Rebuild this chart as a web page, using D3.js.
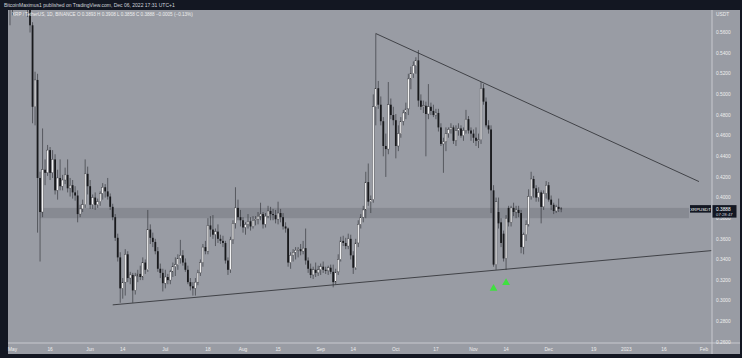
<!DOCTYPE html>
<html lang="en">
<head>
<meta charset="utf-8">
<title>XRP / TetherUS, 1D, BINANCE</title>
<script src="https://cdn.jsdelivr.net/npm/d3@7"></script>
<style>
  body { margin: 0; background: #131722; }
  svg { display: block; }
  text { font-family: "Liberation Sans", Arial, sans-serif; }
</style>
</head>
<body>
<script>

// Daily candles: [open, high, low, close]
var apr = [
  [0.606,0.610,0.567,0.586]
];
var may = [
  [0.586,0.612,0.576,0.607],[0.607,0.617,0.595,0.606],[0.606,0.609,0.590,0.595],[0.595,0.650,0.592,0.645],
  [0.645,0.654,0.600,0.605],[0.605,0.608,0.583,0.598],[0.598,0.601,0.575,0.583],[0.583,0.586,0.560,0.567],
  [0.567,0.570,0.472,0.488],[0.488,0.522,0.470,0.514],[0.514,0.520,0.366,0.419],[0.419,0.425,0.338,0.386],
  [0.386,0.467,0.381,0.427],[0.427,0.437,0.412,0.424],[0.424,0.451,0.421,0.446],[0.446,0.449,0.417,0.424],
  [0.424,0.446,0.419,0.437],[0.437,0.442,0.403,0.407],[0.407,0.427,0.398,0.419],[0.419,0.437,0.407,0.411],
  [0.411,0.422,0.407,0.417],[0.417,0.429,0.413,0.422],[0.422,0.437,0.405,0.409],[0.409,0.419,0.401,0.412],
  [0.412,0.417,0.399,0.405],[0.405,0.411,0.397,0.402],[0.402,0.407,0.376,0.384],[0.384,0.393,0.381,0.389],
  [0.389,0.398,0.386,0.393],[0.393,0.437,0.390,0.423],[0.423,0.430,0.403,0.411]
];
var jun = [
  [0.411,0.417,0.389,0.393],[0.393,0.403,0.389,0.400],[0.400,0.405,0.388,0.393],[0.393,0.399,0.390,0.396],
  [0.396,0.406,0.392,0.404],[0.404,0.414,0.398,0.410],[0.410,0.413,0.400,0.406],[0.406,0.419,0.398,0.401],
  [0.401,0.404,0.388,0.391],[0.391,0.394,0.378,0.381],[0.381,0.384,0.358,0.361],[0.361,0.365,0.338,0.342],
  [0.342,0.347,0.298,0.312],[0.312,0.322,0.302,0.318],[0.318,0.350,0.305,0.345],[0.345,0.348,0.318,0.322],
  [0.322,0.328,0.316,0.325],[0.325,0.327,0.298,0.310],[0.310,0.327,0.306,0.324],[0.324,0.330,0.318,0.326],
  [0.326,0.334,0.320,0.323],[0.323,0.342,0.320,0.337],[0.337,0.340,0.326,0.330],[0.330,0.388,0.328,0.369],
  [0.369,0.374,0.355,0.361],[0.361,0.366,0.352,0.357],[0.357,0.360,0.345,0.348],[0.348,0.352,0.328,0.331],
  [0.331,0.336,0.322,0.327],[0.327,0.331,0.309,0.317]
];
var jul = [
  [0.317,0.330,0.312,0.323],[0.323,0.326,0.316,0.320],[0.320,0.330,0.316,0.328],[0.328,0.337,0.323,0.333],
  [0.333,0.342,0.324,0.335],[0.335,0.345,0.330,0.341],[0.341,0.359,0.336,0.344],[0.344,0.349,0.334,0.337],
  [0.337,0.341,0.328,0.330],[0.330,0.334,0.316,0.318],[0.318,0.322,0.310,0.314],[0.314,0.318,0.305,0.312],
  [0.312,0.322,0.305,0.318],[0.318,0.330,0.315,0.327],[0.327,0.340,0.324,0.337],[0.337,0.355,0.333,0.352],
  [0.352,0.358,0.345,0.348],[0.348,0.380,0.345,0.373],[0.373,0.382,0.362,0.369],[0.369,0.383,0.360,0.364],
  [0.364,0.370,0.353,0.367],[0.367,0.374,0.356,0.360],[0.360,0.364,0.355,0.358],[0.358,0.363,0.352,0.356],
  [0.356,0.358,0.336,0.339],[0.339,0.342,0.325,0.330],[0.330,0.362,0.327,0.359],[0.359,0.378,0.355,0.375],
  [0.375,0.410,0.370,0.390],[0.390,0.398,0.378,0.381],[0.381,0.388,0.372,0.378]
];
var aug = [
  [0.378,0.381,0.366,0.371],[0.371,0.376,0.364,0.374],[0.374,0.384,0.370,0.377],[0.377,0.381,0.368,0.372],
  [0.372,0.382,0.370,0.378],[0.378,0.382,0.373,0.379],[0.379,0.386,0.374,0.382],[0.382,0.395,0.378,0.384],
  [0.384,0.386,0.370,0.374],[0.374,0.385,0.371,0.382],[0.382,0.392,0.380,0.387],[0.387,0.391,0.378,0.384],
  [0.384,0.389,0.378,0.383],[0.383,0.388,0.375,0.379],[0.379,0.396,0.374,0.385],[0.385,0.389,0.376,0.381],
  [0.381,0.385,0.369,0.372],[0.372,0.376,0.366,0.370],[0.370,0.371,0.333,0.337],[0.337,0.347,0.331,0.344],
  [0.344,0.350,0.338,0.347],[0.347,0.352,0.340,0.349],[0.349,0.352,0.342,0.350],[0.350,0.355,0.344,0.348],
  [0.348,0.358,0.345,0.351],[0.351,0.370,0.335,0.339],[0.339,0.342,0.327,0.331],[0.331,0.336,0.322,0.325],
  [0.325,0.333,0.321,0.330],[0.330,0.337,0.323,0.327],[0.327,0.334,0.324,0.330]
];
var sep = [
  [0.330,0.336,0.325,0.333],[0.333,0.338,0.327,0.330],[0.330,0.333,0.326,0.329],[0.329,0.334,0.325,0.332],
  [0.332,0.335,0.326,0.328],[0.328,0.335,0.313,0.318],[0.318,0.331,0.316,0.328],[0.328,0.345,0.325,0.340],
  [0.340,0.362,0.338,0.358],[0.358,0.363,0.353,0.356],[0.356,0.361,0.350,0.353],[0.353,0.365,0.350,0.360],
  [0.360,0.364,0.340,0.344],[0.344,0.348,0.326,0.332],[0.332,0.360,0.330,0.356],[0.356,0.378,0.352,0.374],
  [0.374,0.384,0.370,0.381],[0.381,0.392,0.376,0.388],[0.388,0.425,0.380,0.415],[0.415,0.433,0.392,0.396],
  [0.396,0.402,0.385,0.398],[0.398,0.500,0.395,0.488],[0.488,0.559,0.470,0.506],[0.506,0.513,0.486,0.490],
  [0.490,0.498,0.470,0.474],[0.474,0.478,0.440,0.450],[0.450,0.462,0.420,0.447],[0.447,0.512,0.442,0.490],
  [0.490,0.496,0.476,0.480],[0.480,0.488,0.470,0.475]
];
var oct = [
  [0.475,0.481,0.438,0.450],[0.450,0.470,0.445,0.462],[0.462,0.478,0.458,0.474],[0.474,0.485,0.470,0.482],
  [0.482,0.492,0.476,0.486],[0.486,0.520,0.480,0.515],[0.515,0.527,0.505,0.520],[0.520,0.532,0.516,0.528],
  [0.528,0.536,0.520,0.533],[0.533,0.543,0.488,0.494],[0.494,0.500,0.485,0.488],[0.488,0.494,0.482,0.489],
  [0.489,0.493,0.440,0.481],[0.481,0.510,0.476,0.488],[0.488,0.492,0.480,0.484],[0.484,0.490,0.478,0.480],
  [0.480,0.486,0.476,0.482],[0.482,0.486,0.464,0.468],[0.468,0.472,0.450,0.452],[0.452,0.458,0.424,0.454],
  [0.454,0.468,0.445,0.462],[0.462,0.468,0.458,0.466],[0.466,0.472,0.462,0.468],[0.468,0.470,0.452,0.455],
  [0.455,0.470,0.450,0.465],[0.465,0.472,0.460,0.467],[0.467,0.470,0.458,0.460],[0.460,0.468,0.455,0.465],
  [0.465,0.485,0.462,0.476],[0.476,0.479,0.462,0.465],[0.465,0.468,0.455,0.462]
];
var nov = [
  [0.462,0.466,0.453,0.458],[0.458,0.468,0.450,0.455],[0.455,0.462,0.448,0.456],[0.456,0.512,0.452,0.506],
  [0.506,0.510,0.490,0.493],[0.493,0.497,0.468,0.470],[0.470,0.475,0.462,0.466],[0.466,0.470,0.385,0.407],
  [0.407,0.412,0.333,0.335],[0.335,0.400,0.330,0.396],[0.386,0.400,0.370,0.375],[0.376,0.380,0.352,0.356],
  [0.365,0.368,0.338,0.341],[0.341,0.383,0.330,0.380],[0.390,0.392,0.372,0.376],[0.376,0.392,0.372,0.390],
  [0.390,0.395,0.382,0.386],[0.386,0.392,0.380,0.388],[0.388,0.392,0.381,0.385],[0.385,0.388,0.346,0.352],
  [0.352,0.366,0.345,0.364],[0.364,0.378,0.358,0.374],[0.374,0.408,0.372,0.401],[0.401,0.425,0.398,0.418],
  [0.418,0.421,0.400,0.409],[0.409,0.412,0.396,0.400],[0.400,0.410,0.396,0.405],[0.405,0.407,0.375,0.391],
  [0.391,0.407,0.388,0.404],[0.404,0.416,0.399,0.412]
];
var dec = [
  [0.412,0.415,0.396,0.398],[0.398,0.402,0.388,0.393],[0.393,0.395,0.384,0.387],[0.387,0.393,0.385,0.391],
  [0.391,0.399,0.386,0.389],[0.3893,0.3908,0.3858,0.3888]
];
// first calendar day of each block
var blocks = [
  [Date.UTC(2022,3,30), apr], [Date.UTC(2022,4,1), may], [Date.UTC(2022,5,1), jun],
  [Date.UTC(2022,6,1), jul], [Date.UTC(2022,7,1), aug], [Date.UTC(2022,8,1), sep],
  [Date.UTC(2022,9,1), oct], [Date.UTC(2022,10,1), nov], [Date.UTC(2022,11,1), dec]
];

// drawn trendlines [date, price]
var resistance = [[Date.UTC(2022,8,23), 0.5590], [Date.UTC(2023,0,30), 0.4155]];
var support = [[Date.UTC(2022,5,10), 0.2960], [Date.UTC(2023,1,4), 0.3486]];
// grey zone
var zoneDates = [Date.UTC(2022,4,12), Date.UTC(2023,0,26)];
var zonePrices = [0.380, 0.390];
// green markers below the November lows
var signals = [[Date.UTC(2022,10,9), 0.3118], [Date.UTC(2022,10,14), 0.3175]];

var yTicks = [0.26,0.28,0.30,0.32,0.34,0.36,0.38,0.40,0.42,0.44,0.46,0.48,0.50,0.52,0.54,0.56];
var xTicks = [
  [Date.UTC(2022,4,1),"May"], [Date.UTC(2022,4,16),"16"], [Date.UTC(2022,5,1),"Jun"], [Date.UTC(2022,5,14),"14"],
  [Date.UTC(2022,6,1),"Jul"], [Date.UTC(2022,6,18),"18"], [Date.UTC(2022,7,1),"Aug"], [Date.UTC(2022,7,15),"15"],
  [Date.UTC(2022,8,1),"Sep"], [Date.UTC(2022,8,14),"14"], [Date.UTC(2022,9,1),"Oct"], [Date.UTC(2022,9,17),"17"],
  [Date.UTC(2022,10,1),"Nov"], [Date.UTC(2022,10,14),"14"], [Date.UTC(2022,11,1),"Dec"], [Date.UTC(2022,11,19),"19"],
  [Date.UTC(2023,0,1),"2023"], [Date.UTC(2023,0,16),"16"], [Date.UTC(2023,1,1),"Feb"]
];
var lastPrice = 0.3888;

var w = 742, h = 358;
var padL = 8, padR = 712, padT = 10, padB = 343;

var candles = [];
blocks.forEach(function(b) {
  b[1].forEach(function(v, i) {
    candles.push({date: new Date(b[0] + i * 864e5), o: v[0], h: v[1], l: v[2], c: v[3]});
  });
});

var x = d3.scaleUtc()
  .domain([new Date(Date.UTC(2022,4,1)), new Date(Date.UTC(2023,1,1))])
  .range([12.5, 704]);
var y = d3.scaleLinear().domain([0.26, 0.56]).range([342, 32.5]);

var svg = d3.select("body").append("svg").attr("width", w).attr("height", h);

svg.append("rect").attr("width", w).attr("height", h).attr("fill", "#131722");
// pane + axes background
svg.append("rect").attr("x", padL).attr("y", padT).attr("width", 740 - padL).attr("height", 354 - padT)
  .attr("fill", "#999ca4");

svg.append("text").attr("x", 4).attr("y", 6.5).attr("fill", "#d1d4dc").attr("font-size", 5)
  .text("BitcoinMaximus1 published on TradingView.com, Dec 06, 2022 17:31 UTC+1");

svg.append("clipPath").attr("id", "pane").append("rect")
  .attr("x", padL).attr("y", padT).attr("width", padR - padL).attr("height", padB - padT);

var pane = svg.append("g").attr("clip-path", "url(#pane)");

pane.append("rect")
  .attr("x", x(zoneDates[0])).attr("width", x(zoneDates[1]) - x(zoneDates[0]))
  .attr("y", y(zonePrices[1])).attr("height", y(zonePrices[0]) - y(zonePrices[1]))
  .attr("fill", "#878a92");

var line = d3.line().x(function(d) { return x(d[0]); }).y(function(d) { return y(d[1]); });
pane.append("path").attr("d", line(resistance)).attr("stroke", "#232428").attr("stroke-width", 0.75).attr("fill", "none");
pane.append("path").attr("d", line(support)).attr("stroke", "#232428").attr("stroke-width", 0.75).attr("fill", "none");

var cg = pane.selectAll("g.candle").data(candles).enter().append("g");
cg.append("line")
  .attr("x1", function(d) { return x(d.date); }).attr("x2", function(d) { return x(d.date); })
  .attr("y1", function(d) { return y(d.h); }).attr("y2", function(d) { return y(d.l); })
  .attr("stroke", "#2a2b30").attr("stroke-width", 0.6);
cg.append("rect")
  .attr("x", function(d) { return x(d.date) - 0.9; })
  .attr("width", 1.8)
  .attr("y", function(d) { return y(Math.max(d.o, d.c)); })
  .attr("height", function(d) { return Math.max(0.6, Math.abs(y(d.o) - y(d.c))); })
  .attr("fill", function(d) { return d.c >= d.o ? "#f2f2f2" : "#18191c"; })
  .attr("stroke", function(d) { return d.c >= d.o ? "#3a3b40" : "none"; })
  .attr("stroke-width", 0.4);

pane.selectAll("path.signal").data(signals).enter().append("path")
  .attr("d", d3.symbol().type(d3.symbolTriangle).size(26))
  .attr("transform", function(d) { return "translate(" + x(d[0]) + "," + y(d[1]) + ")"; })
  .attr("fill", "#3fe03f");

// legend
svg.append("text").attr("x", 12).attr("y", 16).attr("font-size", 4.6).attr("fill", "#eeeeee")
  .text("XRP / TetherUS, 1D, BINANCE  O 0.3893  H 0.3908  L 0.3858  C 0.3888  \u22120.0005 (\u22120.13%)");

// axis separators
svg.append("line").attr("x1", padR).attr("x2", padR).attr("y1", padT).attr("y2", 354)
  .attr("stroke", "#d4d6db").attr("stroke-width", 0.8);
svg.append("line").attr("x1", padL).attr("x2", 740).attr("y1", padB).attr("y2", padB)
  .attr("stroke", "#d4d6db").attr("stroke-width", 0.8);

var fmt = d3.format(".4f");
svg.selectAll("text.ytick").data(yTicks.filter(function(v) { return Math.abs(y(v) - y(lastPrice)) > 9; }))
  .enter().append("text")
  .attr("x", 716).attr("y", function(d) { return y(d) + 1.7; })
  .attr("font-size", 4.8).attr("fill", "#eeeeee").text(fmt);
svg.append("text").attr("x", 716).attr("y", 16).attr("font-size", 4.8).attr("fill", "#eeeeee").text("USDT");

svg.selectAll("text.xtick").data(xTicks).enter().append("text")
  .attr("x", function(d) { return x(d[0]); }).attr("y", 350.5)
  .attr("text-anchor", "middle").attr("font-size", 4.8).attr("fill", "#eeeeee")
  .text(function(d) { return d[1]; });

// last price tags
var py = y(lastPrice);
svg.append("rect").attr("x", 690).attr("y", py - 4).attr("width", 21).attr("height", 7.5).attr("fill", "#131722");
svg.append("text").attr("x", 700.5).attr("y", py + 1.5).attr("text-anchor", "middle")
  .attr("font-size", 4.3).attr("fill", "#ffffff").text("XRPUSDT");
svg.append("rect").attr("x", padR + 0.5).attr("y", py - 4).attr("width", 24).attr("height", 12.5).attr("fill", "#131722");
svg.append("text").attr("x", 716).attr("y", py + 1.6).attr("font-size", 4.8).attr("fill", "#ffffff").text(fmt(lastPrice));
svg.append("text").attr("x", 716).attr("y", py + 6.8).attr("font-size", 4.3).attr("fill", "#d1d4dc").text("07:28:47");

</script>
</body>
</html>
